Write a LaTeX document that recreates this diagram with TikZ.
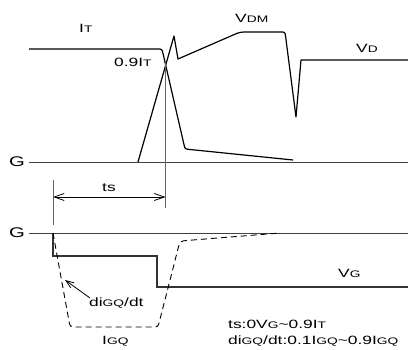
\documentclass[tikz,border=0pt]{standalone}
\usepackage{fontspec}
\setmainfont{Liberation Sans}[FakeStretch=1.45]
\usetikzlibrary{arrows.meta}
\newcommand\subx[1]{{\fontsize{9.5}{9.5}\selectfont #1}}
\begin{document}
\begin{tikzpicture}[x=1pt,y=-1pt,
  wave/.style={line width=1.2pt,black,line join=round},
  gline/.style={line width=0.9pt,black!75},
  vgline/.style={line width=1.5pt,black!80},
  marker/.style={line width=0.9pt,black!60},
  dimarrow/.style={line width=0.8pt,black,{Straight Barb[length=10pt,width=7pt]}-{Straight Barb[length=10pt,width=7pt]}},
  lbl/.style={anchor=base west,inner sep=0pt,font=\fontsize{12}{12}\selectfont},
  glbl/.style={anchor=base west,inner sep=0pt,font=\fontsize{14}{14}\selectfont}]
\useasboundingbox (0,0) rectangle (408,350);
% ground lines
\node[glbl] (g1) at (9,167) {G};
\node[glbl] (g2) at (9,238) {G};
\coordinate (g1e) at (408,162);
\coordinate (g2e) at (408,233);
\draw[gline] (29,162) -- (g1e);
\draw[gline] (29,233) -- (g2e);
% I_T current
\draw[wave] (29,49) -- (157,49) .. controls (162,49) .. (163.1,53.9) -- (184.1,145.1)
  .. controls (185,149) .. (190,149.5) -- (293,160);
% voltage
\draw[wave] (138,162) -- (174,36) -- (178,59) -- (232.7,35.2) .. controls (240,32) .. (248,32)
  -- (280,32) .. controls (285,32) .. (285.6,36.5) -- (296,117) -- (301,60) -- (408,60);
% ts markers
\coordinate (m1a) at (53,180);
\coordinate (m1b) at (53,225);
\coordinate (m2a) at (165.5,63);
\coordinate (m2b) at (165.5,208);
\draw[marker] (m1a) -- (m1b);
\draw[marker] (m2a) -- (m2b);
\coordinate (ta) at (53,197);
\coordinate (tb) at (165.5,197);
\draw[dimarrow] (ta) -- (tb);
\node[lbl] (ts) at (102,192) {ts};
% gate voltage
\draw[vgline] (53,233) -- (53,256) -- (157,256) -- (157,287) -- (408,287);
% gate current (dashed)
\draw[line width=0.9pt,black,dash pattern=on 6pt off 4pt] (53,233) -- (68.8,320.1) .. controls (70,327) .. (77,327)
  -- (152,327) .. controls (158,327) .. (159.5,321.2) -- (178,248.8)
  .. controls (180,241) .. (188,240.4) -- (280,233);
% labels
\node[lbl] (it) at (79,33) {I\subx{T}};
\node[lbl] (it9) at (114,67) {0.9I\subx{T}};
\node[lbl] (vdm) at (235,23) {V\subx{DM}};
\node[lbl] (vd) at (356,53) {V\subx{D}};
\node[lbl] (vg) at (338,278) {V\subx{G}};
\node[lbl] (digq) at (89,307) {di\subx{GQ}/dt};
\node[lbl] (igq) at (102,345) {I\subx{GQ}};
\coordinate (digqtip) at (65,280);
\draw[line width=0.8pt,-{Straight Barb[length=8pt,width=6pt]}] (90,298) -- (digqtip);
\node[lbl] (n1) at (228,329) {ts:0V\subx{G}\textasciitilde 0.9I\subx{T}};
\node[lbl] (n2) at (228,345) {di\subx{GQ}/dt:0.1I\subx{GQ}\textasciitilde 0.9I\subx{GQ}};
\end{tikzpicture}
\end{document}
